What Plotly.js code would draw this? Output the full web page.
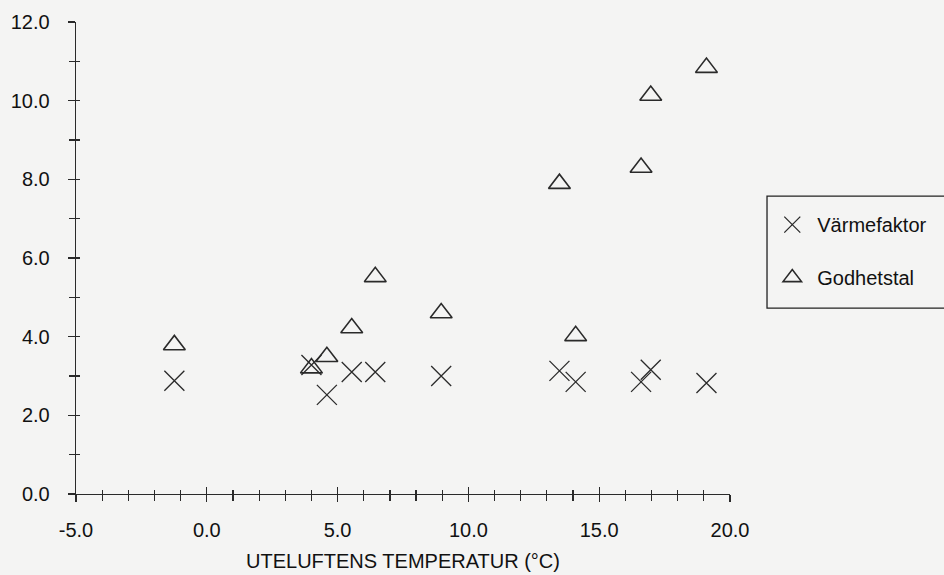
<!DOCTYPE html>
<html>
<head>
<meta charset="utf-8">
<script src="https://cdn.plot.ly/plotly-3.0.1.min.js"></script>
<style>html,body{margin:0;padding:0;background:#f4f4f3;}</style>
</head>
<body>
<div id="chart" style="width:944px;height:575px;"></div>
<script>
const temperature = [-1.24, 4.0, 4.59, 5.54, 6.44, 8.96, 13.48, 14.1, 16.6, 16.97, 19.1];
const varmefaktor = [2.88, 3.28, 2.52, 3.10, 3.10, 3.00, 3.13, 2.85, 2.85, 3.16, 2.82];
const godhetstal  = [3.79, 3.20, 3.49, 4.22, 5.52, 4.60, 7.89, 4.02, 8.30, 10.13, 10.84];
const xTickVals = [-5, 0, 5, 10, 15, 20];
const xTickText = ['-5.0', '0.0', '5.0', '10.0', '15.0', '20.0'];
const yTickVals = [0, 2, 4, 6, 8, 10, 12];
const yTickText = ['0.0', '2.0', '4.0', '6.0', '8.0', '10.0', '12.0'];

const ink = '#2a2a2a';
const font = {family: 'Liberation Sans, Arial, sans-serif', size: 20, color: '#111'};

const traces = [
  {x: temperature, y: varmefaktor, name: 'Värmefaktor', type: 'scatter', mode: 'markers',
   legendgroup: 'a',
   marker: {symbol: 'x-thin-open', size: 20, color: ink, line: {color: ink, width: 1.3}}},
  {x: temperature, y: godhetstal, name: 'Godhetstal', type: 'scatter', mode: 'markers',
   legendgroup: 'b',
   marker: {symbol: 'triangle-up-open', size: 19, color: ink, line: {color: ink, width: 1.6}}},
  // invisible helper trace so overlay axes (upper halves of crossing ticks) are drawn
  {x: [null], y: [null], xaxis: 'x2', yaxis: 'y2', type: 'scatter', mode: 'markers',
   showlegend: false, hoverinfo: 'skip'}
];

const minorX = {tickmode: 'linear', tick0: -5, dtick: 1, ticklen: 6, tickwidth: 1.2, tickcolor: ink};
const minorY = {tickmode: 'linear', tick0: 0, dtick: 1, ticklen: 6, tickwidth: 1.2, tickcolor: ink};

const layout = {
  width: 944, height: 575,
  margin: {l: 76, r: 214, t: 22, b: 81},
  paper_bgcolor: '#f4f4f3', plot_bgcolor: '#f4f4f3',
  font: font,
  showlegend: true,
  legend: {x: 1.057, y: 0.612, xanchor: 'left', yanchor: 'top',
           borderwidth: 0, bgcolor: 'rgba(0,0,0,0)',
           traceorder: 'grouped', tracegroupgap: 24, itemwidth: 40,
           font: {family: font.family, size: 20, color: '#111'}},
  shapes: [{type: 'rect', xref: 'paper', yref: 'paper',
            x0: 1.0566, x1: 1.33, y0: 0.394, y1: 0.631,
            line: {color: '#222', width: 1.3}, fillcolor: 'rgba(0,0,0,0)'}],
  xaxis: {range: [-5, 20], showgrid: false, zeroline: false, showline: true,
          linecolor: ink, linewidth: 1.3,
          tickmode: 'array', tickvals: xTickVals, ticktext: xTickText,
          ticks: 'outside', ticklen: 7, tickwidth: 1.3, tickcolor: ink,
          minor: Object.assign({ticks: 'outside'}, minorX),
          ticklabelstandoff: 11,
          title: {text: 'UTELUFTENS TEMPERATUR (°C)', font: font, standoff: 13}},
  xaxis2: {range: [-5, 20], overlaying: 'x', anchor: 'y', side: 'bottom', showgrid: false,
           zeroline: false, showline: false, showticklabels: false,
           tickmode: 'array', tickvals: xTickVals,
           ticks: 'inside', ticklen: 7, tickwidth: 1.3, tickcolor: ink,
           minor: Object.assign({ticks: 'inside'}, minorX, {ticklen: 4})},
  yaxis: {range: [0, 12], showgrid: false, zeroline: false, showline: true,
          linecolor: ink, linewidth: 1.3,
          tickmode: 'array', tickvals: yTickVals, ticktext: yTickText,
          ticks: 'outside', ticklen: 7, tickwidth: 1.3, tickcolor: ink,
          minor: Object.assign({ticks: 'outside'}, minorY),
          ticklabelstandoff: 14},
  yaxis2: {range: [0, 12], overlaying: 'y', anchor: 'x', side: 'left', showgrid: false,
           zeroline: false, showline: false, showticklabels: false,
           tickmode: 'array', tickvals: yTickVals,
           ticks: 'inside', ticklen: 4, tickwidth: 1.3, tickcolor: ink,
           minor: Object.assign({ticks: 'inside'}, minorY, {ticklen: 4})}
};

Plotly.newPlot('chart', traces, layout, {displayModeBar: false, staticPlot: true});
</script>
</body>
</html>
